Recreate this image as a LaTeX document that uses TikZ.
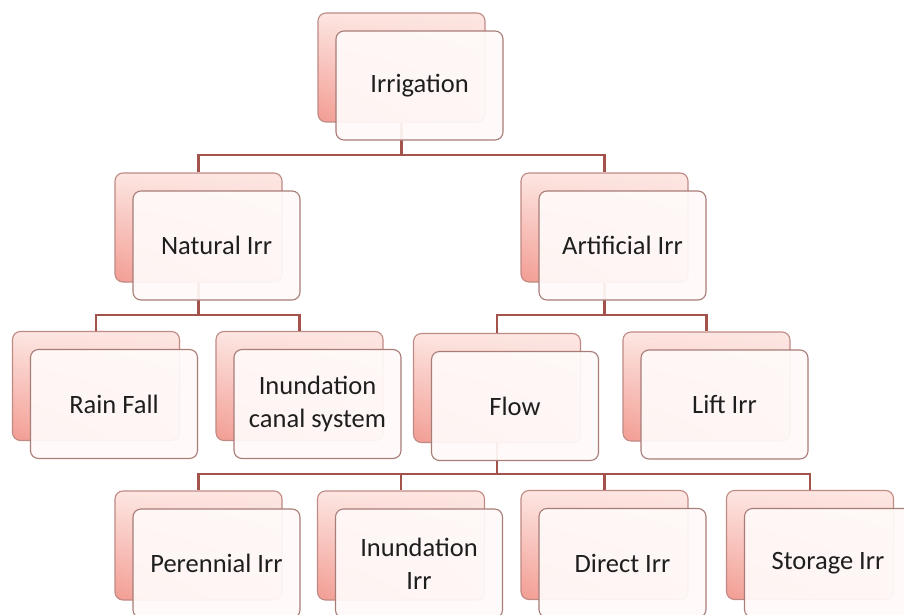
\documentclass[tikz,border=0pt]{standalone}
\usepackage{fontspec}
\setmainfont{Carlito}
\usetikzlibrary{calc,shadings}
\definecolor{pinklight}{HTML}{FDE6E2}
\definecolor{pinkmid}{HTML}{F9D0CA}
\definecolor{pinkdark}{HTML}{F29C92}
\definecolor{backline}{HTML}{C08A84}
\definecolor{frontline}{HTML}{A87C77}
\definecolor{frontfill}{HTML}{FFFAF9}
\definecolor{connline}{HTML}{A3534C}
\definecolor{txt}{HTML}{1E1E1E}
\tikzset{
  backbox/.style={rounded corners=8pt, draw=backline, line width=1.1pt,
    minimum width=167pt, minimum height=109pt, inner sep=0pt,
    upper left=pinklight, upper right=pinklight, lower right=pinkmid, lower left=pinkdark},
  frontbox/.style={rounded corners=8pt, draw=frontline, line width=1.1pt,
    fill=frontfill, fill opacity=0.93, text opacity=1,
    minimum width=167pt, minimum height=109pt, inner sep=2pt,
    text=txt, align=center, font=\fontsize{26.5}{33}\selectfont},
  conn/.style={draw=connline, line width=2.6pt}
}
\newcommand\mkback[3]{\node[backbox] (#1B) at (#2,#3) {};}
\newcommand\mkfront[4]{\node[frontbox] (#1F) at (#2+18,#3+18) {#4};}
\begin{document}
\begin{tikzpicture}[x=1pt,y=-1pt]
\useasboundingbox[fill=white] (0,0) rectangle (904,615);
% back boxes
\mkback{irr}{401.5}{67.5}
\mkback{nat}{198.5}{227.5}
\mkback{art}{604.5}{227.5}
\mkback{rain}{96}{386}
\mkback{inu}{299.5}{386}
\mkback{flow}{497}{388}
\mkback{lift}{706.5}{386.5}
\mkback{per}{198.5}{545.5}
\mkback{inuirr}{401}{545.5}
\mkback{dir}{604.5}{545}
\mkback{sto}{810}{545}
% bar levels
\coordinate (b1) at (0,155);
\coordinate (b2) at (0,315);
\coordinate (b3) at (0,474);
% connectors
\draw[conn] (irrB.south) -- (irrB.south |- b1) -| (natB.north);
\draw[conn] (irrB.south |- b1) -| (artB.north);
\draw[conn] (natB.south) -- (natB.south |- b2) -| (rainB.north);
\draw[conn] (natB.south |- b2) -| (inuB.north);
\draw[conn] (artB.south) -- (artB.south |- b2) -| (flowB.north);
\draw[conn] (artB.south |- b2) -| (liftB.north);
\draw[conn] (flowB.south) -- (flowB.south |- b3) -| (perB.north);
\draw[conn] (flowB.south |- b3) -| (inuirrB.north);
\draw[conn] (flowB.south |- b3) -| (dirB.north);
\draw[conn] (flowB.south |- b3) -| (stoB.north);
% front boxes
\mkfront{irr}{401.5}{67.5}{Irrigation}
\mkfront{nat}{198.5}{227.5}{Natural Irr}
\mkfront{art}{604.5}{227.5}{Artificial Irr}
\mkfront{rain}{96}{386}{Rain Fall}
\mkfront{inu}{299.5}{386}{Inundation\\canal system}
\mkfront{flow}{497}{388}{Flow}
\mkfront{lift}{706.5}{386.5}{Lift Irr}
\mkfront{per}{198.5}{545.5}{Perennial Irr}
\mkfront{inuirr}{401}{545.5}{Inundation\\Irr}
\mkfront{dir}{604.5}{545}{Direct Irr}
\mkfront{sto}{810}{545}{Storage Irr}
\end{tikzpicture}
\end{document}
